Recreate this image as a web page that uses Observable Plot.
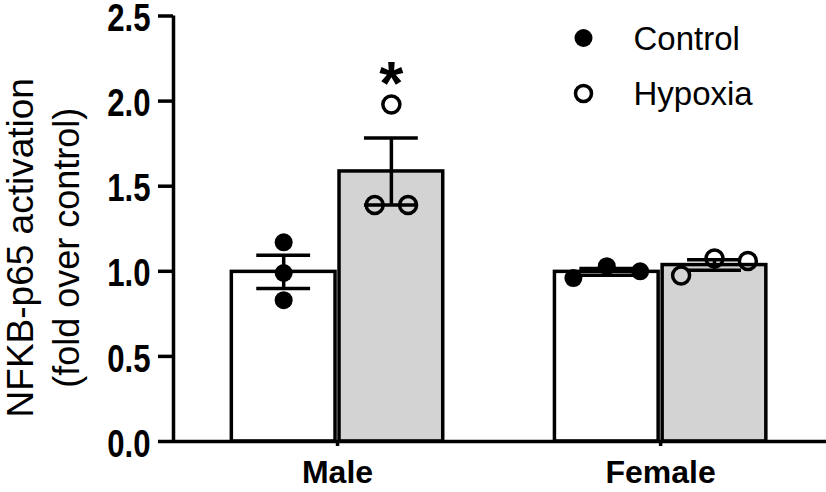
<!DOCTYPE html>
<html><head><meta charset="utf-8">
<script src="https://cdn.jsdelivr.net/npm/d3@7"></script>
<script src="https://cdn.jsdelivr.net/npm/@observablehq/plot@0.6"></script>
<style>body{margin:0;background:#fff} #chart{width:826px;height:492px}</style>
</head><body><div id="chart"></div>
<script>
const sexes = ["Male", "Female"];
const groups = ["Control", "Hypoxia"];
const maleControl = [1.17, 0.99, 0.83];
const maleHypoxia = [1.39, 1.39, 1.98];
const femaleControl = [0.96, 1.03, 1.00];
const femaleHypoxia = [0.975, 1.075, 1.06];
const yTicks = [0, 0.5, 1.0, 1.5, 2.0, 2.5];
const yLabelLines = ["NFKB-p65 activation", "(fold over control)"];
const sigSex = ["Male"];
const sigGroup = ["Hypoxia"];
const sigText = ["*"];

const series = {Male: {Control: maleControl, Hypoxia: maleHypoxia}, Female: {Control: femaleControl, Hypoxia: femaleHypoxia}};
const points = [], bars = [];
sexes.forEach((sex, si) => groups.forEach((g, gi) => {
  const vals = series[sex][g];
  const pos = si * 3 + gi;
  const mean = d3.mean(vals);
  const sem = d3.deviation(vals) / Math.sqrt(vals.length);
  bars.push({sex, group: g, pos, mean, sem, max: d3.max(vals)});
  const order = d3.range(vals.length).sort((a, b) => vals[a] - vals[b]);
  const clusters = []; let cur = [order[0]];
  for (let k = 1; k < order.length; k++) {
    if (vals[order[k]] - vals[order[k - 1]] < 0.1) cur.push(order[k]);
    else { clusters.push(cur); cur = [order[k]]; }
  }
  clusters.push(cur);
  clusters.forEach(c => {
    c.sort((a, b) => a - b);
    c.forEach((idx, k) => points.push({sex, group: g, value: vals[idx], x: pos + (k - (c.length - 1) / 2) * 0.31}));
  });
}));

const xDomain = [-1.023, 5.04];
const SW = 3.5;
const font = "'Liberation Sans', Arial, sans-serif";
const sigBars = bars.filter(b => sigSex.includes(b.sex) && sigGroup.includes(b.group));

const chart = Plot.plot({
  width: 826, height: 492,
  marginLeft: 173, marginRight: 0, marginTop: 15.5, marginBottom: 51,
  style: {fontFamily: font, color: "black", background: "white", overflow: "visible"},
  x: {domain: xDomain},
  y: {domain: [0, 2.5]},
  marks: [
    Plot.rect(bars.filter(b => b.group === "Control"), {x1: d => d.pos - 0.5, x2: d => d.pos + 0.5, y1: 0, y2: "mean", fill: "white", stroke: "black", strokeWidth: SW, insetLeft: 2, insetRight: 2}),
    Plot.rect(bars.filter(b => b.group === "Hypoxia"), {x1: d => d.pos - 0.5, x2: d => d.pos + 0.5, y1: 0, y2: "mean", fill: "#d3d3d3", stroke: "black", strokeWidth: SW, insetLeft: 2, insetRight: 2}),
    Plot.ruleY([0], {strokeWidth: SW}),
    Plot.ruleX([xDomain[0]], {y1: 0, y2: 2.5, strokeWidth: SW}),
    Plot.ruleX(bars, {x: "pos", y1: d => d.mean - d.sem, y2: d => d.mean + d.sem, strokeWidth: SW}),
    Plot.ruleY(bars, {y: d => d.mean + d.sem, x1: d => d.pos - 0.25, x2: d => d.pos + 0.25, strokeWidth: SW}),
    Plot.ruleY(bars, {y: d => d.mean - d.sem, x1: d => d.pos - 0.25, x2: d => d.pos + 0.25, strokeWidth: SW}),
    Plot.dot(points.filter(p => p.group === "Control"), {x: "x", y: "value", r: 9, fill: "black"}),
    Plot.dot(points.filter(p => p.group === "Hypoxia"), {x: "x", y: "value", r: 8.5, fill: "none", stroke: "black", strokeWidth: SW}),
    Plot.text(sigBars, {x: "pos", y: "max", text: () => sigText[0], fontSize: 62, fontWeight: "bold", dy: -20, fill: "black"}),
    Plot.axisY({ticks: yTicks, tickSize: 15, tickPadding: 8, tickFormat: d3.format(".1f"), strokeWidth: SW, fontSize: 38, fontWeight: "bold", label: null}),
    Plot.axisX({ticks: sexes.map((s, i) => i * 3 + 0.5), tickFormat: v => sexes[Math.round((v - 0.5) / 3)], tickSize: 5, tickPadding: 14, strokeWidth: SW, fontSize: 32, fontWeight: "bold", label: null}),
    Plot.text([yLabelLines[0]], {frameAnchor: "left", text: d => d, rotate: -90, textAnchor: "middle", lineAnchor: "middle", dx: -152.5, dy: 19, fontSize: 37}),
    Plot.text([yLabelLines[1]], {frameAnchor: "left", text: d => d, rotate: -90, textAnchor: "middle", lineAnchor: "middle", dx: -106.5, dy: 19, fontSize: 36}),
    ...groups.map((g, i) => Plot.dot([g], {frameAnchor: "top-left", dx: 410, dy: 22 + i * 55.5, r: i === 0 ? 9 : 8, fill: i === 0 ? "black" : "none", stroke: "black", strokeWidth: i === 0 ? 0 : SW})),
    ...groups.map((g, i) => Plot.text([g], {frameAnchor: "top-left", text: d => d, dx: 460, dy: 23 + i * 55, textAnchor: "start", lineAnchor: "middle", fontSize: 33}))
  ]
});
// condense the y tick labels horizontally (reference uses a narrow bold face) and nudge them down slightly
d3.select(chart).selectAll("g[aria-label='y-axis tick label'] text").each(function() {
  const t = d3.select(this);
  const tr = t.attr("transform") || "";
  t.attr("transform", tr + " translate(0,3) scale(0.82,1)");
});
document.getElementById("chart").appendChild(chart);
</script>
</body></html>
